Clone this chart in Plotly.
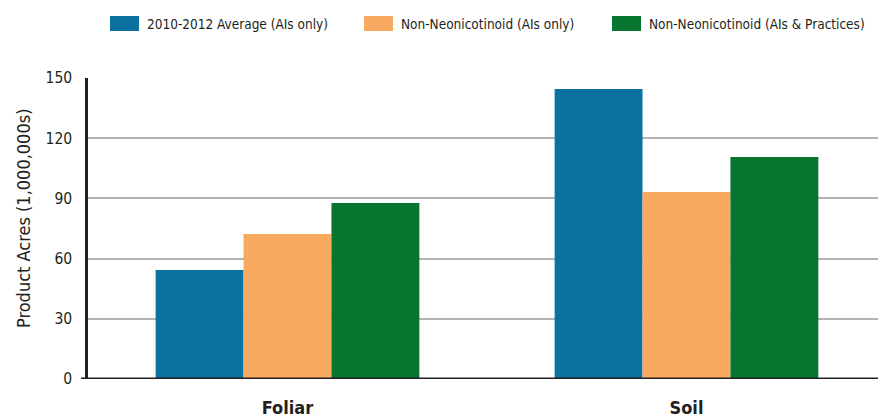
import plotly.graph_objects as go

categories = ["Foliar", "Soil"]
series_names = ["2010-2012 Average (AIs only)", "Non-Neonicotinoid (AIs only)", "Non-Neonicotinoid (AIs & Practices)"]
avg_2010_2012 = [54.3, 144.5]
non_neo_ais = [72.2, 93.2]
non_neo_practices = [87.7, 110.6]
y_ticks = [0, 30, 60, 90, 120, 150]
y_title = "Product Acres (1,000,000s)"

colors = ["#0b71a1", "#f7aa60", "#077430"]
FONT = "DejaVu Sans Condensed, Liberation Sans Narrow, sans-serif"
TXT = "#231f20"

W, H = 878, 420
L, R, T, B = 88, 0, 78, 41
PW, PH = W - L - R, H - T - B


def px(x):
    return (x - L) / PW


def py(y):
    return (H - B - y) / PH


fig = go.Figure()
for name, vals, c in zip(series_names, [avg_2010_2012, non_neo_ais, non_neo_practices], colors):
    fig.add_trace(go.Bar(x=categories, y=vals, name=name, showlegend=False,
                         marker=dict(color=c, line=dict(width=0))))

# custom legend (large swatches like the reference)
legend_sq_x = [110, 364, 612]
for name, c, sx in zip(series_names, colors, legend_sq_x):
    fig.add_shape(type="rect", xref="paper", yref="paper",
                  x0=px(sx), x1=px(sx + 29), y0=py(31), y1=py(16),
                  fillcolor=c, line=dict(width=0))
    fig.add_annotation(xref="paper", yref="paper", x=px(sx + 35), y=py(24),
                       xanchor="left", yanchor="middle", showarrow=False, text=name,
                       font=dict(family=FONT, size=13.5, color=TXT))

fig.add_annotation(xref="paper", yref="paper", x=px(23), y=py(219), textangle=-90,
                   xanchor="center", yanchor="middle", showarrow=False, text=y_title,
                   font=dict(family=FONT, size=18, color=TXT))

fig.update_layout(
    width=W, height=H,
    margin=dict(l=L, r=R, t=T, b=B, autoexpand=False),
    paper_bgcolor="white", plot_bgcolor="white",
    barmode="group", bargap=0.339, bargroupgap=0,
    font=dict(family=FONT, color=TXT, size=15),
    showlegend=False,
    xaxis=dict(showline=False, ticks="", showgrid=False, ticklabelstandoff=16, range=[-0.5, 1.48],
               tickfont=dict(family=FONT, size=18, color=TXT, weight="bold")),
    yaxis=dict(range=[0, 150], tickvals=y_ticks, showgrid=True, gridcolor="#b3b3b3", gridwidth=1.5,
               showline=True, linecolor=TXT, linewidth=2.5, ticks="", zeroline=False,
               ticklabelstandoff=10,
               tickfont=dict(family=FONT, size=15.5, color=TXT)),
)
fig.add_shape(type="line", xref="paper", yref="y", x0=px(81), x1=1, y0=0, y1=0,
              line=dict(color=TXT, width=3), layer="above")
fig.write_html("out.html", config={"displayModeBar": False},
               post_script="document.body.style.margin='0';")
